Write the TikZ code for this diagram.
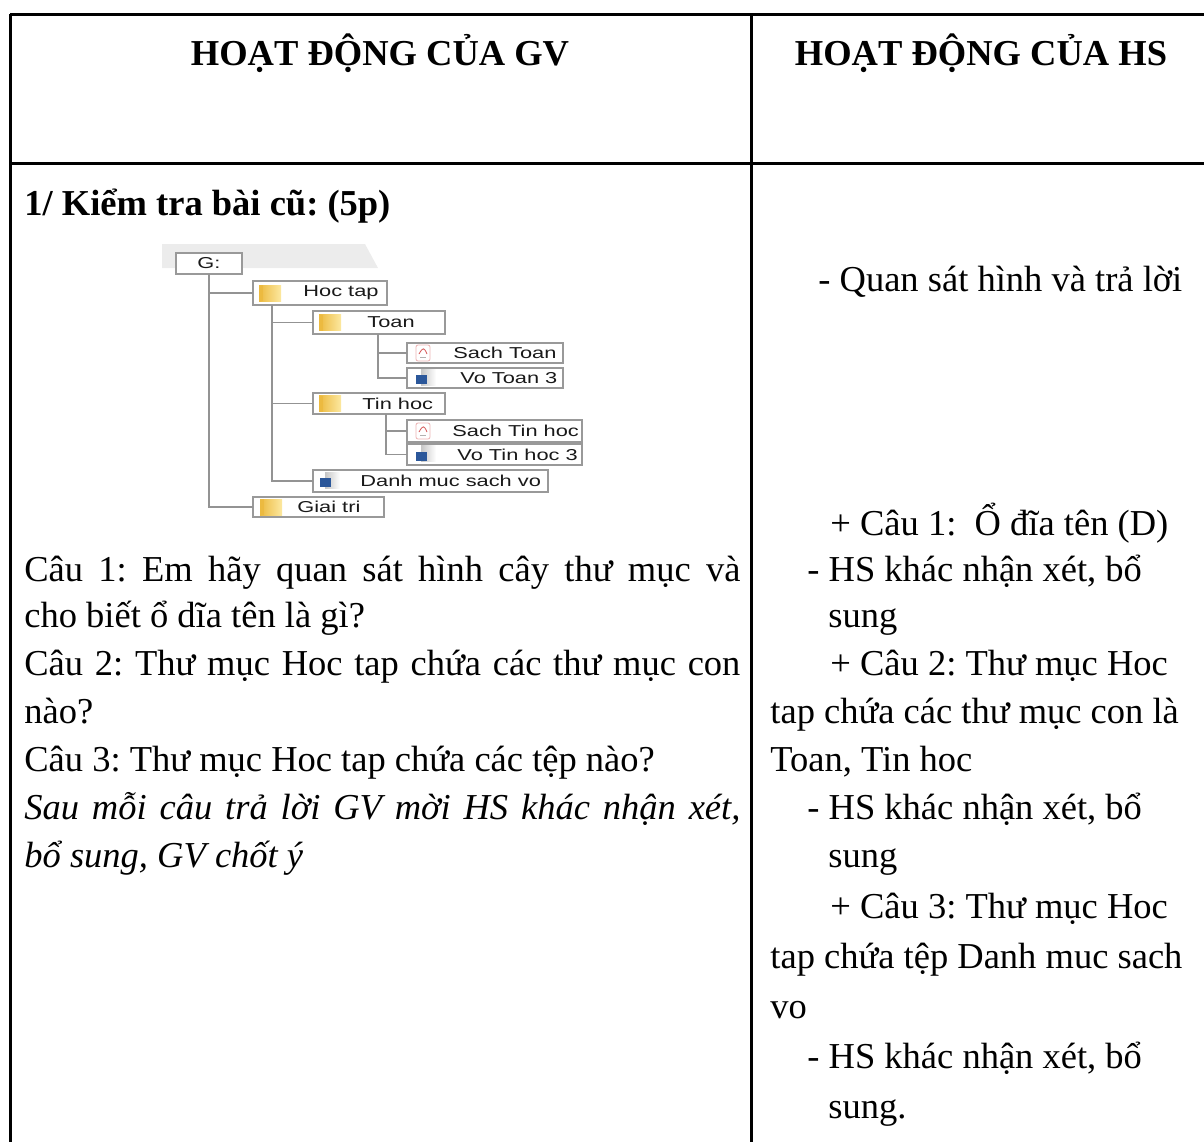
\documentclass[tikz,border=0pt]{standalone}
\usepackage{fontspec}
\setmainfont{Liberation Serif}
\newfontfamily\treefont{Liberation Sans}
\usetikzlibrary{calc, positioning}
\definecolor{folderdark}{RGB}{236,186,64}
\definecolor{folderlight}{RGB}{252,232,160}
\definecolor{wordblue}{RGB}{43,87,154}
\definecolor{pdfred}{RGB}{214,90,90}
\frenchspacing
\newcommand\wide[1]{\scalebox{1.38}[1]{#1}}
\newcommand\justline[1]{\makebox[358pt][s]{#1}}
% icons of the folder tree, #1 = x centre, #2 = y centre
\newcommand\folder[2]{%
  \shade [left color=folderdark, right color=folderlight] ({#1-11},{#2-8}) rectangle ({#1+11},{#2+8});
  \fill [folderdark] ({#1-11},{#2-8}) rectangle ({#1-7},{#2+8});
}
\newcommand\pdficon[2]{%
  \draw [pdfred!45, fill=white, rounded corners=1pt] ({#1-7},{#2-8}) rectangle ({#1+7},{#2+8});
  \draw [pdfred, line width=0.4pt] ({#1-4},{#2+1}) .. controls ({#1},{#2-6}) and ({#1+1},{#2-6}) .. ({#1+4},{#2+1});
  \fill [gray!60] ({#1-3},{#2+4}) rectangle ({#1+3},{#2+5});
}
\newcommand\wordicon[2]{%
  \shade [left color=gray!45, right color=white] ({#1-1},{#2-9}) rectangle ({#1+14},{#2+7});
  \fill [wordblue] ({#1-6},{#2-3}) rectangle ({#1+5},{#2+6});
}
% name, left, top, right, bottom, icon, icon x, label x, label
\newcommand\treeitem[9]{%
  \node (#1) [tbox, minimum width={(#4-#2)*0.5pt}, minimum height={(#5-#3)*0.5pt}]
    at ({(#2+#4)/2},{(#3+#5)/2}) {};
  #6{#7}{(#3+#5)/2}
  \node (#1-t) [tlabel] at (#8,{(#3+#5)/2}) {\wide{#9}};
}

\begin{document}
\begin{tikzpicture}[x=0.5pt, y=-0.5pt,
  rule/.style={line width=1.5pt},
  bodytext/.style={anchor=base west, inner sep=0, font=\fontsize{18.25pt}{24pt}\selectfont},
  headtext/.style={anchor=base, inner sep=0, font=\fontsize{18.25pt}{24pt}\selectfont\bfseries},
  tbox/.style={draw=gray!80, fill=white, line width=0.6pt, inner sep=0, outer sep=0},
  tlabel/.style={anchor=west, inner sep=0, text=black!90, font=\treefont\fontsize{7.9pt}{9pt}\selectfont},
  tline/.style={draw=gray!85, line width=0.6pt}]

\useasboundingbox (0,0) rectangle (1204,1142);

% Table
\draw [rule] (10,14) -- (1204,14);
\draw [rule] (10,163) -- (1204,163);
\draw [rule] (10,14) -- (10,1142);
\draw [rule] (751,14) -- (751,1142);

% Header
\node (gvhead) [headtext] at (380,65) {HOẠT ĐỘNG CỦA GV};
\node (hshead) [headtext] at (981,65) {HOẠT ĐỘNG CỦA HS};

% Folder tree
\fill [gray!15] (162,244) -- (365,244) -- (378,268) -- (162,268) -- cycle;
\node (g) [tbox, minimum width=33pt, minimum height=10.5pt] at (209,263.5) {};
\node (g-t) [tlabel, anchor=center] at (g) {\wide{G:}};
    \treeitem{hoctap}  {253}{281}{387}{305}{\folder}  {270}{303}{Hoc tap}
    \treeitem{toan}    {313}{311}{445}{334}{\folder}  {330}{367}{Toan}
    \treeitem{sachtoan}{407}{343}{563}{363}{\pdficon} {423}{453}{Sach Toan}
    \treeitem{votoan}  {407}{368}{563}{388}{\wordicon}{422}{460}{Vo Toan 3}
    \treeitem{tinhoc}  {313}{393}{445}{414}{\folder}  {330}{362}{Tin hoc}
    \treeitem{sachtin} {407}{420}{582}{442}{\pdficon} {423}{452}{Sach Tin hoc}
    \treeitem{votin}   {407}{444}{582}{465}{\wordicon}{422}{457}{Vo Tin hoc 3}
    \treeitem{danhmuc} {313}{470}{548}{492}{\wordicon}{326}{360}{Danh muc sach vo}
    \treeitem{giaitri} {253}{497}{384}{517}{\folder}  {271}{297}{Giai tri}

\coordinate (hoctrunk) at ($(hoctap.south west)+(19,0)$);
\coordinate (toantrunk) at ($(toan.south west)+(65,0)$);
\coordinate (tintrunk) at ($(tinhoc.south west)+(73,0)$);
\draw [tline] (g.south) |- (hoctap.west);
\draw [tline] (g.south) |- (giaitri.west);
\foreach \c in {toan, tinhoc, danhmuc} {
  \draw [tline] (hoctrunk) |- (\c.west);
}
\draw [tline] (toantrunk) |- (sachtoan.west);
\draw [tline] (toantrunk) |- (votoan.west);
\draw [tline] (tintrunk) |- (sachtin.west);
\draw [tline] (tintrunk) |- (votin.west);

% GV column
\node (kiemtra) [bodytext, font=\fontsize{18.25pt}{24pt}\selectfont\bfseries] at (24,215) {1/ Kiểm tra bài cũ: (5p)};
    \node (cau1a) [bodytext] at (24,581) {\justline{Câu 1: Em hãy quan sát hình cây thư mục và}};
    \node (cau1b) [bodytext] at (24,627) {cho biết ổ dĩa tên là gì?};
    \node (cau2a) [bodytext] at (24,675) {\justline{Câu 2: Thư mục Hoc tap chứa các thư mục con}};
    \node (cau2b) [bodytext] at (24,723) {nào?};
    \node (cau3)  [bodytext] at (24,771) {Câu 3: Thư mục Hoc tap chứa các tệp nào?};
    \node (chota) [bodytext, font=\fontsize{18.25pt}{24pt}\selectfont\itshape] at (24,819) {\justline{Sau mỗi câu trả lời GV mời HS khác nhận xét,}};
    \node (chotb) [bodytext, font=\fontsize{18.25pt}{24pt}\selectfont\itshape] at (24,867) {bổ sung, GV chốt ý};

% HS column
\node (quansat) [bodytext] at (818,291) {- Quan sát hình và trả lời};
    \node (tl1)  [bodytext] at (830,535) {+ Câu 1:~ Ổ đĩa tên (D)};
    \node (tl2a) [bodytext] at (830,675) {+ Câu 2: Thư mục Hoc};
    \node (tl2b) [bodytext] at (770,723) {tap chứa các thư mục con là};
    \node (tl2c) [bodytext] at (770,771) {Toan, Tin hoc};
    \node (tl3a) [bodytext] at (830,918) {+ Câu 3: Thư mục Hoc};
    \node (tl3b) [bodytext] at (770,968) {tap chứa tệp Danh muc sach};
    \node (tl3c) [bodytext] at (770,1018) {vo};
\foreach [count=\i] \y/\z/\last in {581/627/sung, 819/867/sung, 1068/1118/sung.} {
    \node (hsnx\i) [bodytext] at (807,\y) {- HS khác nhận xét, bổ};
    \node (hsbs\i) [bodytext] at (828,\z) {\last};
}

\end{tikzpicture}
\end{document}
